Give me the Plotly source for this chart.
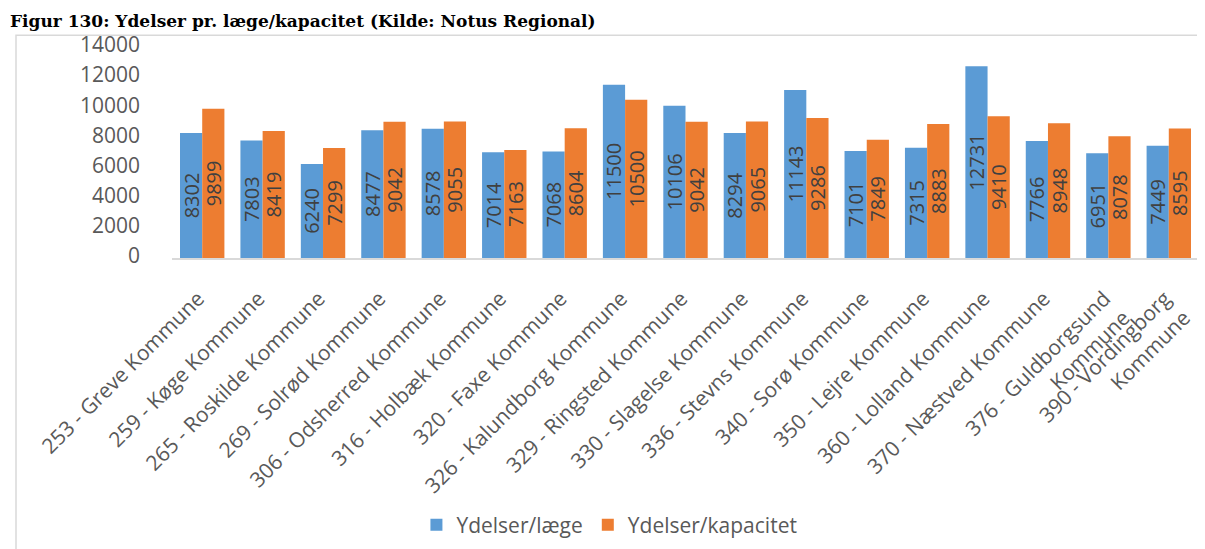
import plotly.graph_objects as go

categories = [
    "253 - Greve Kommune", "259 - Køge Kommune", "265 - Roskilde Kommune",
    "269 - Solrød Kommune", "306 - Odsherred Kommune", "316 - Holbæk Kommune",
    "320 - Faxe Kommune", "326 - Kalundborg Kommune", "329 - Ringsted Kommune",
    "330 - Slagelse Kommune", "336 - Stevns Kommune", "340 - Sorø Kommune",
    "350 - Lejre Kommune", "360 - Lolland Kommune", "370 - Næstved Kommune",
    "376 - Guldborgsund<br>Kommune", "390 - Vordingborg<br>Kommune",
]
ydelser_laege = [8302, 7803, 6240, 8477, 8578, 7014, 7068, 11500, 10106,
                 8294, 11143, 7101, 7315, 12731, 7766, 6951, 7449]
ydelser_kapacitet = [9899, 8419, 7299, 9042, 9055, 7163, 8604, 10500, 9042,
                     9065, 9286, 7849, 8883, 9410, 8948, 8078, 8595]
y_ticks = [0, 2000, 4000, 6000, 8000, 10000, 12000, 14000]
y_tick_labels = ["0", "2000", "4000", "6000", "8000", "10000", "12000", "14000"]

title_text = "Figur 130: Ydelser pr. læge/kapacitet (Kilde: Notus Regional)"

FONT = "Open Sans"
GRAY = "#595959"
LABEL = "#404040"

fig = go.Figure()
for name, vals, color in [("Ydelser/læge", ydelser_laege, "#5B9BD5"),
                          ("Ydelser/kapacitet", ydelser_kapacitet, "#ED7D31")]:
    fig.add_trace(go.Bar(
        name=name, x=categories, y=vals, marker=dict(color=color, line=dict(width=0)),
        text=[str(v) for v in vals], textposition="inside", insidetextanchor="middle",
        textangle=-90, constraintext="none",
        textfont=dict(family=FONT, size=20, color=LABEL),
        insidetextfont=dict(family=FONT, size=20, color=LABEL),
    ))

fig.update_layout(
    width=1205, height=549,
    margin=dict(l=164, r=14, t=39, b=296),
    paper_bgcolor="white", plot_bgcolor="white",
    barmode="group", bargap=0.265, bargroupgap=0,
    showlegend=True,
    legend=dict(orientation="h", x=0.238, xanchor="left", y=-1.266, yanchor="middle",
                font=dict(family=FONT, size=21, color=GRAY), traceorder="normal"),
    uniformtext=dict(mode="show", minsize=20),
)
fig.update_xaxes(
    tickangle=-45, tickfont=dict(family=FONT, size=21, color=GRAY),
    showline=True, linecolor="#D9D9D9", linewidth=2, ticks="", showgrid=False,
    ticklabelstandoff=18, ticklabelshift=-4,
)
fig.update_yaxes(
    range=[0, 14000], tickvals=y_ticks, ticktext=y_tick_labels,
    tickfont=dict(family=FONT, size=21, color=GRAY),
    showgrid=False, zeroline=False, showline=False, ticks="",
    ticklabelstandoff=31, ticklabelshift=-2,
)
fig.add_shape(type="rect", xref="paper", yref="paper",
              x0=(8 - 164) / 1027, x1=(1215 - 164) / 1027,
              y0=(253 - 570) / 214, y1=(253 - 27) / 214,
              line=dict(color="#D9D9D9", width=1.5), fillcolor="rgba(0,0,0,0)", layer="below")
fig.add_annotation(text="<b>" + title_text + "</b>", xref="paper", yref="paper",
                   x=(0 - 164) / 1027, y=253 / 214, xanchor="left", yanchor="top",
                   showarrow=False, font=dict(family="DejaVu Serif", size=17, color="#000000"))

fig.write_html("out.html")
